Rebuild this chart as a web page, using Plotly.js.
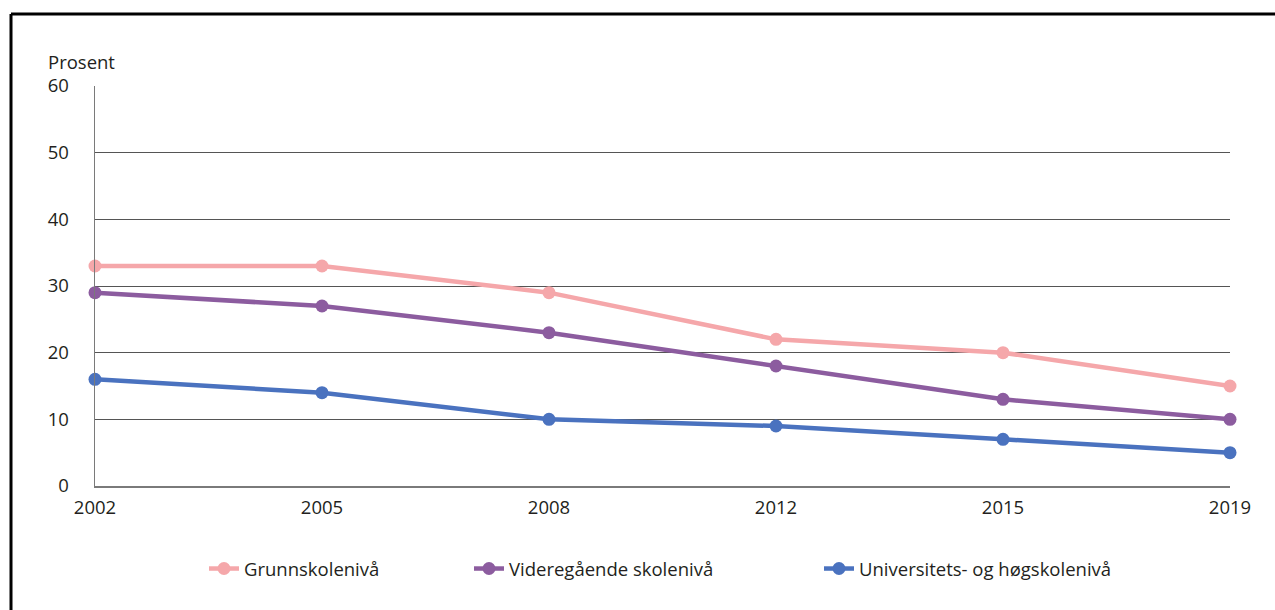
<!DOCTYPE html>
<html>
<head>
<meta charset="utf-8">
<script src="https://cdn.plot.ly/plotly-3.0.1.min.js"></script>
<style>html,body{margin:0;padding:0;background:#fff;}#chart{width:1275px;height:610px;}</style>
</head>
<body>
<div id="chart"></div>
<script>
const years = ["2002", "2005", "2008", "2012", "2015", "2019"];
const grunnskole = [33, 33, 29, 22, 20, 15];
const videregaaende = [29, 27, 23, 18, 13, 10];
const universitet = [16, 14, 10, 9, 7, 5];
const seriesNames = ["Grunnskolenivå", "Videregående skolenivå", "Universitets- og høgskolenivå"];
const yTicks = [0, 10, 20, 30, 40, 50, 60];

const colors = ["#f5a7aa", "#8c5c9f", "#4a72bf"];
const seriesData = [grunnskole, videregaaende, universitet];
const legendIds = ["legend", "legend2", "legend3"];

const traces = seriesData.map((vals, i) => ({
  x: years,
  y: vals,
  name: seriesNames[i],
  type: "scatter",
  mode: "lines+markers",
  line: {color: colors[i], width: 4.5},
  marker: {color: colors[i], size: 13},
  cliponaxis: false,
  legend: legendIds[i]
}));

const font = "'Open Sans', 'DejaVu Sans', sans-serif";
const W = 1135, H = 400, L = 95, T = 86;
const px = x => (x - L) / W;
const py = y => 1 - (y - T) / H;

const legendTextX = [245, 510, 860];
const legendBase = {
  orientation: "h",
  yanchor: "middle",
  xanchor: "left",
  y: py(569),
  font: {size: 18.5, family: font, color: "#231f20"},
  bgcolor: "rgba(0,0,0,0)"
};

const layout = {
  width: 1275,
  height: 610,
  margin: {l: L, r: 1275 - L - W, t: T, b: 610 - T - H},
  paper_bgcolor: "#fff",
  plot_bgcolor: "#fff",
  font: {family: font, size: 18.5, color: "#231f20"},
  showlegend: true,
  legend: Object.assign({}, legendBase, {x: px(legendTextX[0] - 41)}),
  legend2: Object.assign({}, legendBase, {x: px(legendTextX[1] - 41)}),
  legend3: Object.assign({}, legendBase, {x: px(legendTextX[2] - 41)}),
  xaxis: {
    type: "category",
    range: [0, 5],
    showgrid: false,
    showline: true,
    linecolor: "#7a7a7a",
    linewidth: 1.5,
    ticks: "",
    ticklabelstandoff: 4,
    tickfont: {size: 18.5},
    zeroline: false,
    fixedrange: true
  },
  yaxis: {
    range: [0, 60],
    tickvals: yTicks,
    ticktext: yTicks.map(String),
    showgrid: true,
    gridcolor: "#555555",
    gridwidth: 1,
    showline: true,
    linecolor: "#7a7a7a",
    linewidth: 1.5,
    ticks: "",
    ticklabelstandoff: 21,
    tickfont: {size: 18.5},
    zeroline: false,
    fixedrange: true
  },
  annotations: [{
    text: "Prosent",
    xref: "paper", yref: "paper",
    x: px(46), y: py(62),
    xanchor: "left", yanchor: "middle",
    showarrow: false,
    font: {size: 18.5, family: font, color: "#231f20"}
  }],
  shapes: [
    {type: "line", xref: "paper", yref: "paper",
     x0: px(11), x1: 1.1, y0: py(14), y1: py(14),
     line: {color: "#000", width: 3}},
    {type: "line", xref: "paper", yref: "paper",
     x0: px(11), x1: px(11), y0: py(14), y1: -0.4,
     line: {color: "#000", width: 3}}
  ]
};

Plotly.newPlot("chart", traces, layout, {displayModeBar: false, staticPlot: true});
</script>
</body>
</html>
